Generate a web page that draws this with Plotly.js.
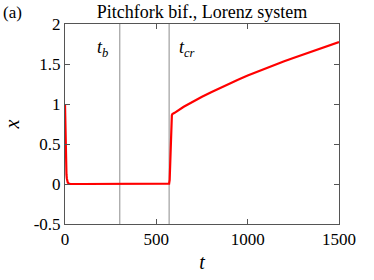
<!DOCTYPE html>
<html>
<head>
<meta charset="utf-8">
<script src="https://cdn.plot.ly/plotly-3.0.1.min.js"></script>
<style>
html,body{margin:0;padding:0;background:#fff;}
#chart{width:374px;height:280px;}
</style>
</head>
<body>
<div id="chart"></div>
<script>
// Data
const tValues = [0,1,2,3,4,5,6,8,10,12,15,20,25,30,100,200,300,400,500,560,570,573,576,579,582,585,588,591,595,600,650,700,750,800,850,900,950,1000,1050,1100,1150,1200,1250,1300,1350,1400,1450,1500];
const xValues = [1,0.8,0.62,0.48,0.37,0.28,0.21,0.12,0.07,0.04,0.02,0.007,0.002,0,0,0,0,0,0,0,0.005,0.05,0.3,0.6,0.8,0.86,0.875,0.88,0.885,0.89,0.965,1.03,1.09,1.147,1.202,1.255,1.306,1.355,1.402,1.447,1.491,1.534,1.576,1.617,1.657,1.697,1.736,1.775];
const markerTimes = [300, 570];
const markerLabels = ['<i>t<sub>b</sub></i>', '<i>t<sub>cr</sub></i>'];
const xTicks = [0, 500, 1000, 1500];
const yTicks = [-0.5, 0, 0.5, 1, 1.5, 2];
const yTickText = ['-0.5', '0', '0.5', '1', '1.5', '2'];
const yRange = [-0.5, 2];
const xRange = [0, 1500];

const font = '"Liberation Serif", "DejaVu Serif", serif';
const axisColor = '#555555';

const traces = markerTimes.map(tm => ({
  x: [tm, tm], y: yRange, mode: 'lines',
  line: {color: '#8c8c8c', width: 1}, hoverinfo: 'skip', showlegend: false
}));
traces.push({
  x: tValues, y: xValues, mode: 'lines',
  line: {color: '#ff0000', width: 2.2}, showlegend: false
});

const annotations = markerTimes.map((tm, i) => ({
  x: tm, y: 1.7, xref: 'x', yref: 'y', text: markerLabels[i],
  showarrow: false, xanchor: i === 0 ? 'right' : 'left', xshift: i === 0 ? -10 : 8,
  font: {family: font, size: 18, color: '#000'}
}));
annotations.push({
  x: 0, y: 1, xref: 'paper', yref: 'paper', xshift: -64, yshift: 12,
  text: '(a)', showarrow: false, xanchor: 'left', yanchor: 'middle',
  font: {family: font, size: 17, color: '#000'}
});

const layout = {
  width: 374, height: 280,
  margin: {l: 65, r: 35, t: 24, b: 56},
  paper_bgcolor: '#fff', plot_bgcolor: '#fff',
  font: {family: font, size: 17, color: '#000'},
  title: {text: 'Pitchfork bif., Lorenz system', x: 0.54, xanchor: 'center', y: 0.957, yanchor: 'middle',
          font: {family: font, size: 18, color: '#000'}},
  xaxis: {
    range: xRange, tickvals: xTicks, ticktext: xTicks.map(String),
    ticks: 'inside', ticklen: 5, tickcolor: axisColor, mirror: 'allticks',
    showline: true, linecolor: axisColor, linewidth: 1, showgrid: false, zeroline: false,
    title: {text: '<i>t</i>', font: {family: font, size: 20}, standoff: 6},
    tickfont: {family: font, size: 17, color: '#000'}
  },
  yaxis: {
    range: yRange, tickvals: yTicks, ticktext: yTickText,
    ticks: 'inside', ticklen: 5, tickcolor: axisColor, mirror: 'allticks',
    showline: true, linecolor: axisColor, linewidth: 1, showgrid: false, zeroline: false,
    title: {text: '<i>x</i>', font: {family: font, size: 20}, standoff: 8},
    tickfont: {family: font, size: 17, color: '#000'}
  },
  annotations: annotations
};

Plotly.newPlot('chart', traces, layout, {displayModeBar: false, staticPlot: true});
</script>
</body>
</html>
